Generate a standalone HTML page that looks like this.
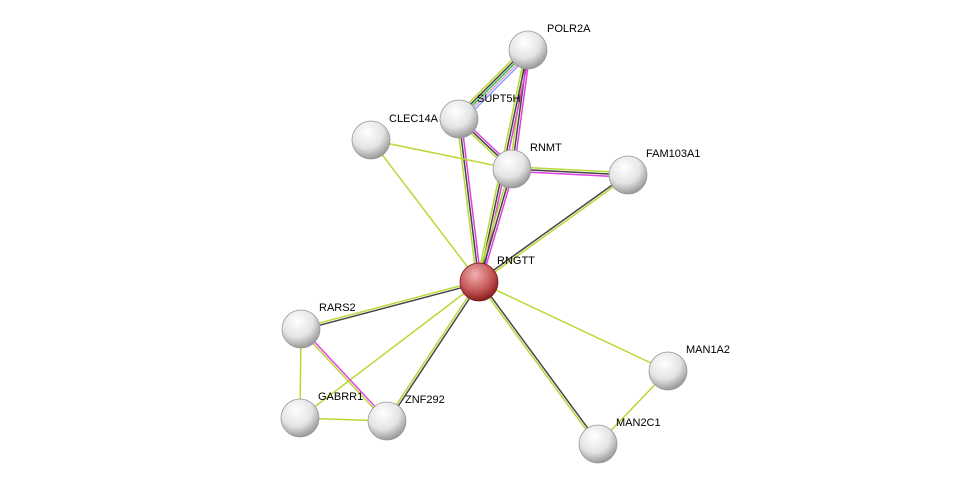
<!DOCTYPE html>
<html><head><meta charset="utf-8"><style>
html,body{margin:0;padding:0;background:#fff;width:975px;height:489px;overflow:hidden}
text{font-family:"Liberation Sans",sans-serif;font-size:11px;fill:#000}
</style></head><body>
<svg id="s" width="975" height="489" xmlns="http://www.w3.org/2000/svg">
<defs>
<radialGradient id="g" cx="40%" cy="30%" r="70%">
<stop offset="0" stop-color="#ffffff"/><stop offset="0.6" stop-color="#e4e4e4"/><stop offset="1" stop-color="#9a9a9a"/>
</radialGradient>
<radialGradient id="r" cx="40%" cy="30%" r="70%">
<stop offset="0" stop-color="#f0b0b0"/><stop offset="0.6" stop-color="#c85a5a"/><stop offset="1" stop-color="#8a2020"/>
</radialGradient>
</defs>
<g id="e"></g><g id="n"></g>
</svg>
<script>
var N={POLR2A:[528,50],SUPT5H:[459,119],CLEC14A:[371,140],RNMT:[512,169],FAM103A1:[628,175],RNGTT:[479,282],RARS2:[301,329],GABRR1:[300,418],ZNF292:[387,421],MAN1A2:[668,371],MAN2C1:[598,444]};
var Y="#b7d936",K="#444",M="#e040e0",B="#8aa0ff",G="#30c030";
var E=[["POLR2A","SUPT5H",[B,"#e0a0e0",G,K,Y]],["POLR2A","RNMT",[M,K,Y]],["POLR2A","RNGTT",[M,K,Y]],["RNMT","RNGTT",[M,K,Y]],
["SUPT5H","RNMT",[M,K,Y]],["SUPT5H","RNGTT",[M,K,Y]],["CLEC14A","RNMT",[Y]],["CLEC14A","RNGTT",[Y]],
["RNMT","FAM103A1",[Y,K,M]],["FAM103A1","RNGTT",[Y,K]],["RNGTT","RARS2",[K,Y]],["RNGTT","GABRR1",[Y]],
["RNGTT","ZNF292",[K,Y]],["RNGTT","MAN2C1",[K,Y]],["RNGTT","MAN1A2",[Y]],["MAN1A2","MAN2C1",[Y]],
["RARS2","GABRR1",[Y]],["RARS2","ZNF292",[M,Y]],["GABRR1","ZNF292",[Y]]];
var ns="http://www.w3.org/2000/svg",eg=document.getElementById("e"),ng=document.getElementById("n");
E.forEach(function(e){var a=N[e[0]],b=N[e[1]],dx=b[0]-a[0],dy=b[1]-a[1],L=Math.hypot(dx,dy),px=-dy/L,py=dx/L,c=e[2];
c.forEach(function(col,i){var o=(i-(c.length-1)/2)*2.2;var l=document.createElementNS(ns,"line");
l.setAttribute("x1",a[0]+px*o);l.setAttribute("y1",a[1]+py*o);l.setAttribute("x2",b[0]+px*o);l.setAttribute("y2",b[1]+py*o);
l.setAttribute("stroke",col);l.setAttribute("stroke-width","1.5");eg.appendChild(l);});});
var lab={POLR2A:[547,32],SUPT5H:[477,102],CLEC14A:[389,122],RNMT:[530,151],FAM103A1:[646,157],RNGTT:[497,264],RARS2:[319,311],GABRR1:[318,400],ZNF292:[405,403],MAN1A2:[686,353],MAN2C1:[616,426]};
for(var k in N){var p=N[k],c=document.createElementNS(ns,"circle");c.setAttribute("cx",p[0]);c.setAttribute("cy",p[1]);c.setAttribute("r",19);
c.setAttribute("fill",k=="RNGTT"?"url(#r)":"url(#g)");c.setAttribute("stroke",k=="RNGTT"?"#7a1a1a":"#999");c.setAttribute("stroke-width","0.8");ng.appendChild(c);
var t=document.createElementNS(ns,"text");t.setAttribute("x",lab[k][0]);t.setAttribute("y",lab[k][1]);t.textContent=k;ng.appendChild(t);}
</script>
</body></html>
